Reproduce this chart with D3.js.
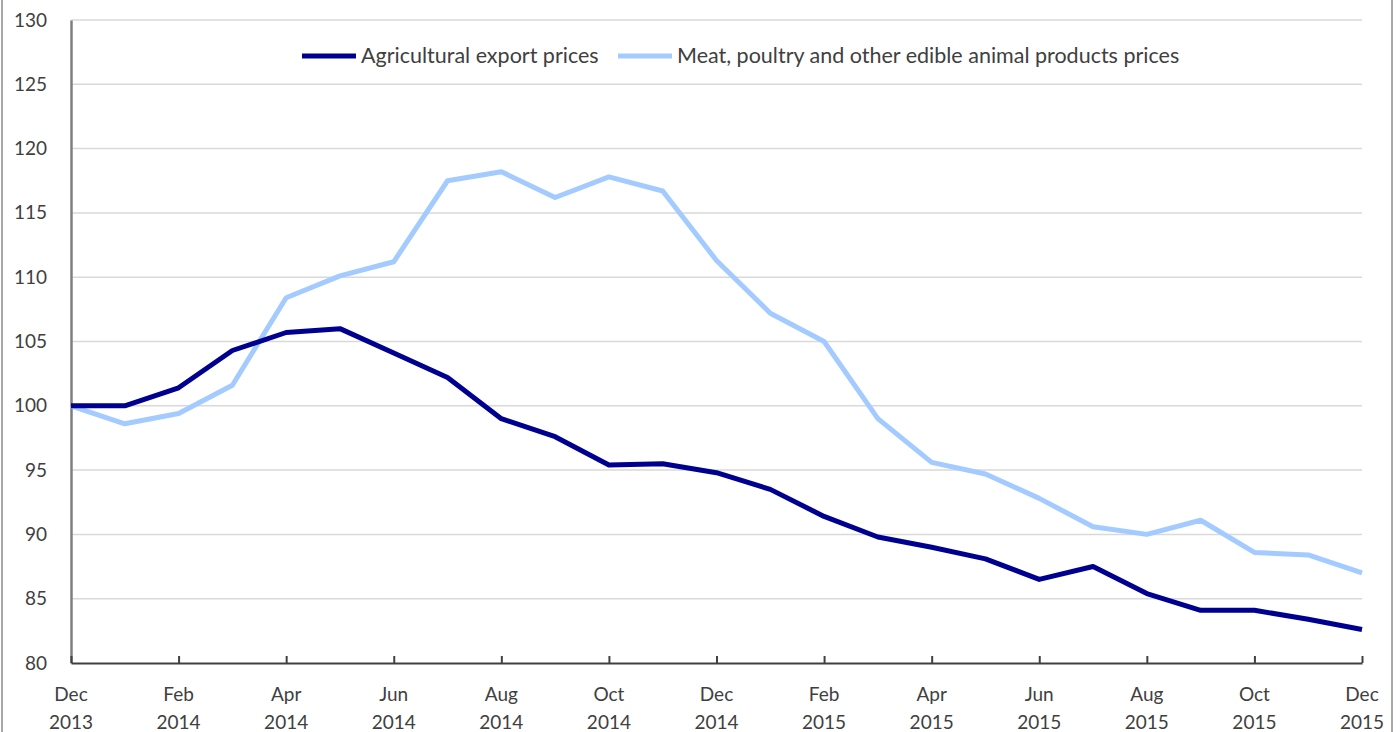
<!DOCTYPE html>
<html>
<head>
<meta charset="utf-8">
<script src="https://cdn.jsdelivr.net/npm/d3@7"></script>
<style>
  body { margin: 0; background: #fff; }
  text { font-family: Lato, "Open Sans", sans-serif; fill: #404040; }
</style>
</head>
<body>
<div id="chart"></div>
<script>
// months from Dec 2013 to Dec 2015
const months = ['Dec 2013', 'Jan 2014', 'Feb 2014', 'Mar 2014', 'Apr 2014', 'May 2014', 'Jun 2014',
  'Jul 2014', 'Aug 2014', 'Sep 2014', 'Oct 2014', 'Nov 2014', 'Dec 2014', 'Jan 2015', 'Feb 2015',
  'Mar 2015', 'Apr 2015', 'May 2015', 'Jun 2015', 'Jul 2015', 'Aug 2015', 'Sep 2015', 'Oct 2015',
  'Nov 2015', 'Dec 2015'];

const agricultural = [100, 100, 101.4, 104.3, 105.7, 106.0, 104.1, 102.2, 99.0, 97.6, 95.4, 95.5,
  94.8, 93.5, 91.4, 89.8, 89.0, 88.1, 86.5, 87.5, 85.4, 84.1, 84.1, 83.4, 82.6];

const meat = [100, 98.6, 99.4, 101.6, 108.4, 110.1, 111.2, 117.5, 118.2, 116.2, 117.8, 116.7,
  111.3, 107.2, 105.0, 99.0, 95.6, 94.7, 92.8, 90.6, 90.0, 91.1, 88.6, 88.4, 87.0];

const seriesNames = ['Agricultural export prices', 'Meat, poultry and other edible animal products prices'];
const yTicks = [80, 85, 90, 95, 100, 105, 110, 115, 120, 125, 130];
const xTickIdx = [0, 2, 4, 6, 8, 10, 12, 14, 16, 18, 20, 22, 24];

const width = 1400, height = 732;
const margin = {top: 20, right: 38, bottom: 69, left: 71};

const svg = d3.select('#chart').append('svg')
  .attr('width', width)
  .attr('height', height);

// outer frame
svg.append('rect')
  .attr('x', 2).attr('y', -4)
  .attr('width', 1390).attr('height', height + 8)
  .attr('fill', 'none')
  .attr('stroke', '#8c8c8c')
  .attr('stroke-width', 1.5);

const x = d3.scaleLinear()
  .domain([0, months.length - 1])
  .range([margin.left, width - margin.right]);

const y = d3.scaleLinear()
  .domain([80, 130])
  .range([height - margin.bottom, margin.top]);

// gridlines
svg.append('g')
  .selectAll('line')
  .data(yTicks.filter(d => d > 80))
  .join('line')
  .attr('x1', margin.left)
  .attr('x2', width - margin.right)
  .attr('y1', d => y(d))
  .attr('y2', d => y(d))
  .attr('stroke', '#d9d9d9')
  .attr('stroke-width', 1.5);

// y axis
const yAxis = svg.append('g')
  .attr('transform', `translate(${margin.left},0)`)
  .call(d3.axisLeft(y).tickValues(yTicks).tickSize(0).tickPadding(24));
yAxis.select('.domain').attr('stroke', '#7f7f7f').attr('stroke-width', 2.5);
yAxis.selectAll('text')
  .style('font-size', '19px')
  .attr('fill', '#404040');

// x axis
const xAxis = svg.append('g')
  .attr('transform', `translate(0,${y(80)})`)
  .call(d3.axisBottom(x).tickValues(xTickIdx).tickSizeInner(-7).tickSizeOuter(0).tickFormat(''));
xAxis.select('.domain').attr('stroke', '#404040').attr('stroke-width', 2);
xAxis.selectAll('.tick line').attr('stroke', '#404040').attr('stroke-width', 2);

const xLabels = svg.append('g')
  .selectAll('text')
  .data(xTickIdx)
  .join('text')
  .attr('x', d => x(d))
  .attr('y', y(80) + 38)
  .attr('text-anchor', 'middle')
  .style('font-size', '19px');
xLabels.append('tspan')
  .attr('x', d => x(d))
  .text(d => months[d].split(' ')[0]);
xLabels.append('tspan')
  .attr('x', d => x(d))
  .attr('dy', 28)
  .text(d => months[d].split(' ')[1]);

// lines
const line = d3.line()
  .x((d, i) => x(i))
  .y(d => y(d));

const colors = ['#000090', '#a3cbff'];

svg.append('path')
  .datum(meat)
  .attr('fill', 'none')
  .attr('stroke', colors[1])
  .attr('stroke-width', 5)
  .attr('stroke-linejoin', 'round')
  .attr('d', line);

svg.append('path')
  .datum(agricultural)
  .attr('fill', 'none')
  .attr('stroke', colors[0])
  .attr('stroke-width', 5)
  .attr('stroke-linejoin', 'round')
  .attr('d', line);

// legend
const legendX = [302, 618];
const legend = svg.append('g')
  .selectAll('g')
  .data(seriesNames)
  .join('g')
  .attr('transform', (d, i) => `translate(${legendX[i]},56)`);
legend.append('line')
  .attr('x1', 0).attr('x2', 54)
  .attr('stroke', (d, i) => colors[i])
  .attr('stroke-width', 5);
legend.append('text')
  .attr('x', 59)
  .attr('y', 7)
  .style('font-size', '21.5px')
  .text(d => d);
</script>
</body>
</html>
